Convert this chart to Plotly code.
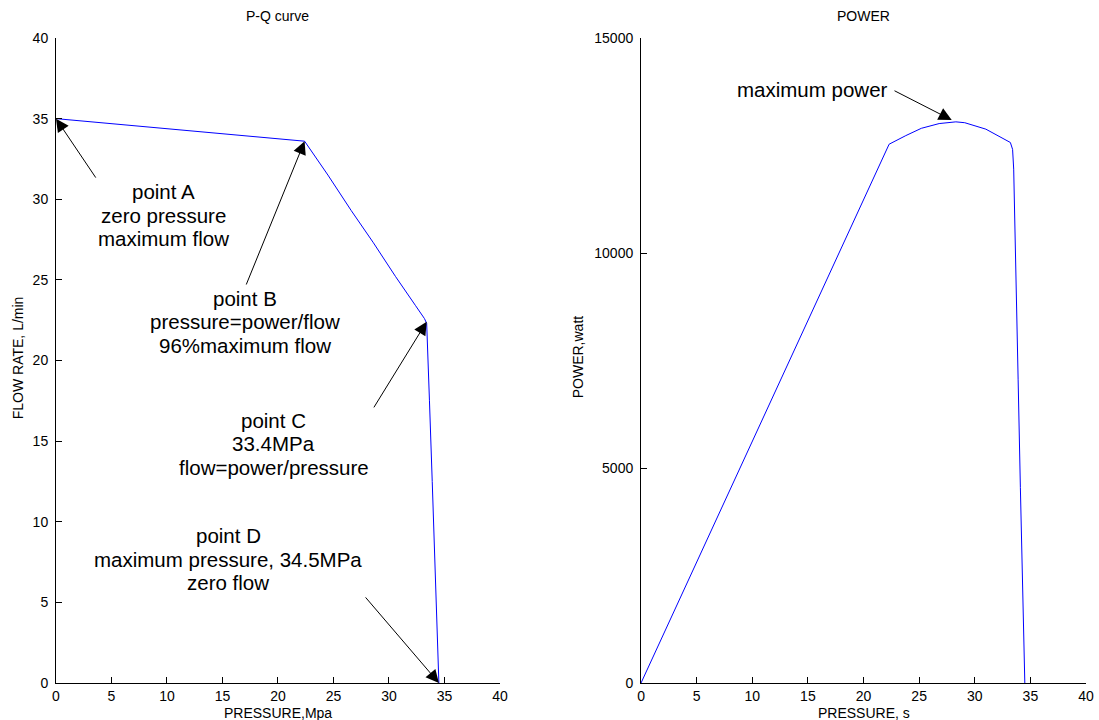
import plotly.graph_objects as go
from plotly.subplots import make_subplots

# ---- data ----
pq_pressure = [0, 22.4, 24.5, 26.6, 28.6, 30.6, 32.4, 33.2, 33.4, 33.45, 33.65, 33.9, 34.1, 34.3, 34.5]
pq_flow = [35, 33.6, 31.5, 29.3, 27.3, 25.2, 23.4, 22.6, 22.3, 21.5, 17.5, 12.5, 8.0, 4.0, 0]

pw_pressure = [0, 22.3, 23.8, 25.2, 26.8, 28.3, 29.1, 31.0, 33.2, 33.4, 33.5, 33.7, 33.9, 34.1, 34.3, 34.5]
pw_watt = [0, 12530, 12730, 12900, 13010, 13050, 13030, 12880, 12570, 12410, 11950, 9750, 7050, 4550, 2250, 0]

x_ticks = [0, 5, 10, 15, 20, 25, 30, 35, 40]
flow_ticks = [0, 5, 10, 15, 20, 25, 30, 35, 40]
power_ticks = [0, 5000, 10000, 15000]
power_tick_labels = ["0", "5000", "10000", "15000"]

# annotation texts: (lines, text x, first-line y, arrow tail x, tail y, tip x, tip y)
pq_notes = [
    (["point A", "zero pressure", "maximum flow"], 9.73, 30.45, 3.67, 31.25, 0.0, 35.0),
    (["point B", "pressure=power/flow", "96%maximum flow"], 17.07, 23.85, 17.09, 24.62, 22.4, 33.6),
    (["point C", "33.4MPa", "flow=power/pressure"], 19.6, 16.31, 28.56, 17.0, 33.4, 22.4),
    (["point D", "maximum pressure, 34.5MPa", "zero flow"], 15.5, 9.12, 27.78, 5.4, 34.5, 0.0),
]
pw_note = ("maximum power", 15.42, 13802, 22.65, 13791, 27.93, 13093)

FONT = "Liberation Sans, Arial, Helvetica, sans-serif"
LINE_STEP_PQ = 23.5 / 16.125  # data units per text line on left axes

fig = make_subplots(rows=1, cols=2, horizontal_spacing=0.137)

fig.add_trace(go.Scatter(x=pq_pressure, y=pq_flow, mode="lines",
                         line=dict(color="#0000ff", width=1), showlegend=False), row=1, col=1)
fig.add_trace(go.Scatter(x=pw_pressure, y=pw_watt, mode="lines",
                         line=dict(color="#0000ff", width=1), showlegend=False), row=1, col=2)

axis_common = dict(showline=True, linecolor="black", linewidth=1, ticks="inside",
                   ticklen=6, tickcolor="black", showgrid=False, zeroline=False,
                   mirror=False, tickfont=dict(family=FONT, size=14, color="black"))

fig.update_xaxes(range=[0, 40], tickvals=x_ticks, domain=[0, 0.431], **axis_common, row=1, col=1)
fig.update_xaxes(range=[0, 40], tickvals=x_ticks, domain=[0.568, 1.0], **axis_common, row=1, col=2)
fig.update_yaxes(range=[0, 40], tickvals=flow_ticks, ticklabelstandoff=4, **axis_common, row=1, col=1)
fig.update_yaxes(range=[0, 15000], tickvals=power_ticks, ticktext=power_tick_labels,
                 ticklabelstandoff=4, **axis_common, row=1, col=2)

annotations = []
big = dict(family=FONT, size=20.5, color="black")
small = dict(family=FONT, size=14, color="black")

for lines, tx, ty, ax, ay, px, py in pq_notes:
    for i, ln in enumerate(lines):
        annotations.append(dict(x=tx, y=ty - i * LINE_STEP_PQ, xref="x", yref="y", text=ln,
                                showarrow=False, font=big, xanchor="center", yanchor="middle"))
    annotations.append(dict(x=px, y=py, xref="x", yref="y", ax=ax, ay=ay, axref="x", ayref="y",
                            text="", showarrow=True, arrowhead=2, arrowsize=2.6, arrowwidth=1,
                            arrowcolor="black", standoff=0, startstandoff=0))

txt, tx, ty, ax, ay, px, py = pw_note
annotations.append(dict(x=tx, y=ty, xref="x2", yref="y2", text=txt, showarrow=False,
                        font=big, xanchor="center", yanchor="middle"))
annotations.append(dict(x=px, y=py, xref="x2", yref="y2", ax=ax, ay=ay, axref="x2", ayref="y2",
                        text="", showarrow=True, arrowhead=2, arrowsize=2.6, arrowwidth=1,
                        arrowcolor="black", standoff=0, startstandoff=0))

# titles and axis labels
lab = dict(xref="paper", yref="paper", showarrow=False, font=small, xanchor="center", yanchor="middle")
annotations += [
    dict(x=0.2155, y=1.034, text="P-Q curve", **lab),
    dict(x=0.784, y=1.034, text="POWER", **lab),
    dict(x=0.2155, y=-0.0465, text="PRESSURE,Mpa", **lab),
    dict(x=0.784, y=-0.0465, text="PRESSURE, s", **lab),
    dict(x=-0.0369, y=0.505, text="FLOW RATE, L/min", textangle=-90, **lab),
    dict(x=0.5068, y=0.505, text="POWER,watt", textangle=-90, **lab),
]

fig.update_layout(width=1099, height=720, margin=dict(l=56, r=13, t=38, b=37, autoexpand=False),
                  paper_bgcolor="white", plot_bgcolor="white", annotations=annotations,
                  showlegend=False, font=dict(family=FONT))

fig.write_html("out.html")
